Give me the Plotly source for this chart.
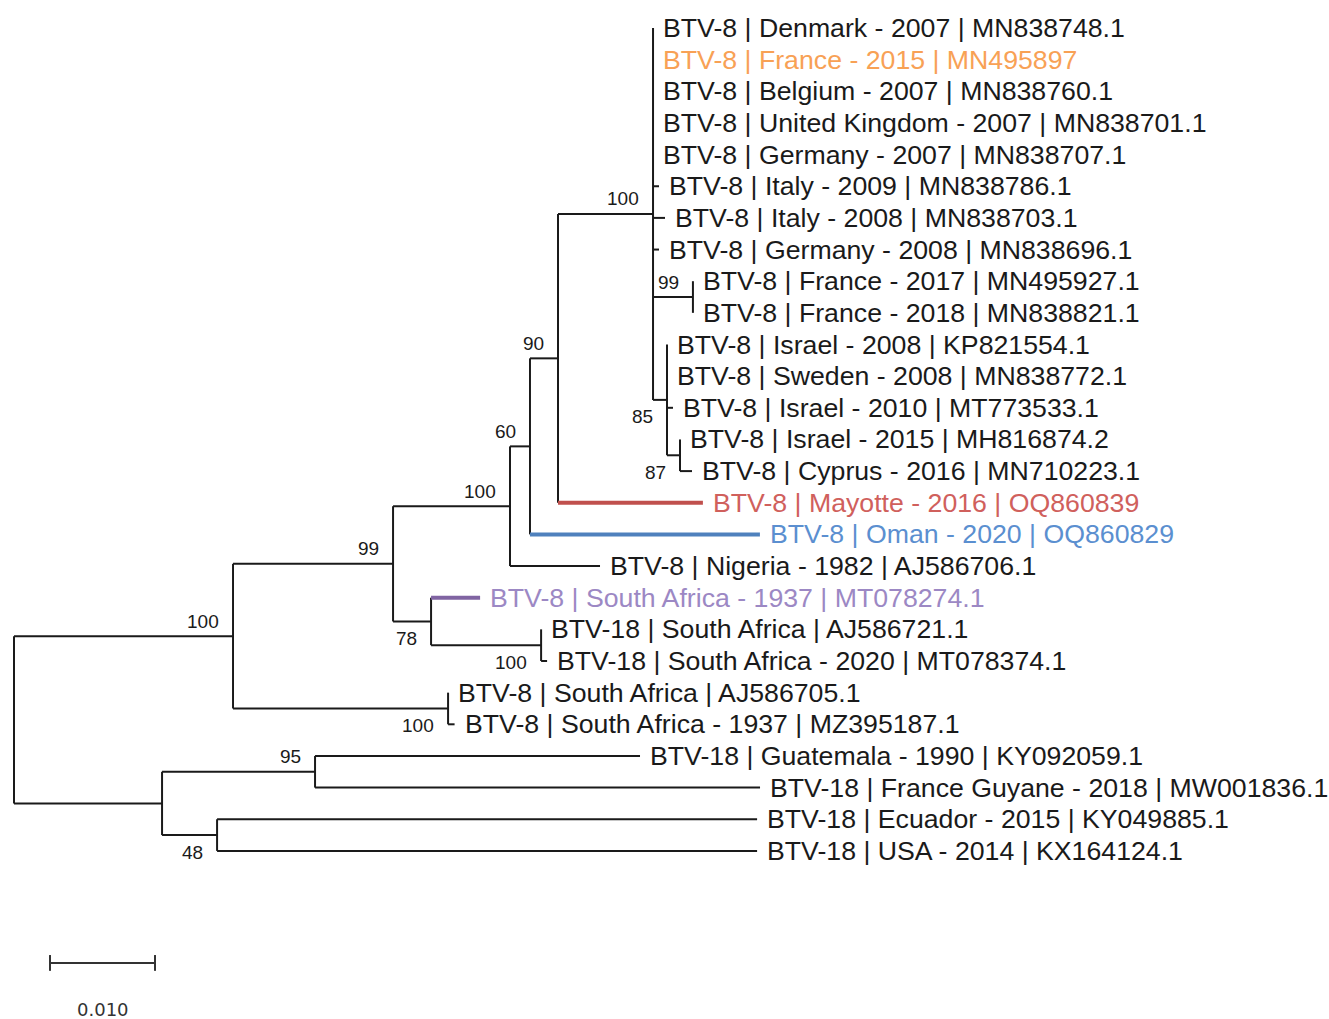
import plotly.graph_objects as go

# ---------------- data ----------------
tip_labels = [
    "BTV-8 | Denmark - 2007 | MN838748.1",
    "BTV-8 | France - 2015 | MN495897",
    "BTV-8 | Belgium - 2007 | MN838760.1",
    "BTV-8 | United Kingdom - 2007 | MN838701.1",
    "BTV-8 | Germany - 2007 | MN838707.1",
    "BTV-8 | Italy - 2009 | MN838786.1",
    "BTV-8 | Italy - 2008 | MN838703.1",
    "BTV-8 | Germany - 2008 | MN838696.1",
    "BTV-8 | France - 2017 | MN495927.1",
    "BTV-8 | France - 2018 | MN838821.1",
    "BTV-8 | Israel - 2008 | KP821554.1",
    "BTV-8 | Sweden - 2008 | MN838772.1",
    "BTV-8 | Israel - 2010 | MT773533.1",
    "BTV-8 | Israel - 2015 | MH816874.2",
    "BTV-8 | Cyprus - 2016 | MN710223.1",
    "BTV-8 | Mayotte - 2016 | OQ860839",
    "BTV-8 | Oman - 2020 | OQ860829",
    "BTV-8 | Nigeria - 1982 | AJ586706.1",
    "BTV-8 | South Africa - 1937 | MT078274.1",
    "BTV-18 | South Africa | AJ586721.1",
    "BTV-18 | South Africa - 2020 | MT078374.1",
    "BTV-8 | South Africa | AJ586705.1",
    "BTV-8 | South Africa - 1937 | MZ395187.1",
    "BTV-18 | Guatemala - 1990 | KY092059.1",
    "BTV-18 | France Guyane - 2018 | MW001836.1",
    "BTV-18 | Ecuador - 2015 | KY049885.1",
    "BTV-18 | USA - 2014 | KX164124.1",
]
tip_parent = ["F", "F", "F", "F", "F", "F", "F", "F", "G", "G", "H", "H", "H", "I", "I",
              "E", "D", "C", "J", "K", "K", "L", "L", "N", "N", "O", "O"]
tip_branch = [0, 0, 0, 0, 0, 0.00057, 0.00114, 0.00057, 0, 0, 0, 0, 0.00057, 0, 0.00114,
              0.0138, 0.0219, 0.00857, 0.00467, 0, 0.00057, 0, 0.00062,
              0.03095, 0.04238, 0.05143, 0.05143]

node_names = ["root", "A", "B", "C", "D", "E", "F", "G", "H", "I", "J", "K", "L", "M", "N", "O"]
node_parent = [None, "root", "A", "B", "C", "D", "E", "F", "F", "H", "B", "J", "A", "root", "M", "M"]
node_branch = [0, 0.02086, 0.01524, 0.01114, 0.0019, 0.00267, 0.00905, 0.0038, 0.00133,
               0.00124, 0.00362, 0.01048, 0.02048, 0.0141, 0.01457, 0.00524]
node_bootstrap = [None, 100, 99, 100, 60, 90, 100, 99, 85, 87, 78, 100, 100, None, 95, 48]

scale_length = 0.010
scale_label = "0.010"

# ---------------- styles ----------------
tip_line_color = {
    "BTV-8 | Mayotte - 2016 | OQ860839": "#c0504d",
    "BTV-8 | Oman - 2020 | OQ860829": "#4f81bd",
    "BTV-8 | South Africa - 1937 | MT078274.1": "#8064a2",
}
tip_text_color = {
    "BTV-8 | France - 2015 | MN495897": "#f8a155",
    "BTV-8 | Mayotte - 2016 | OQ860839": "#d0605c",
    "BTV-8 | Oman - 2020 | OQ860829": "#5b8fd0",
    "BTV-8 | South Africa - 1937 | MT078274.1": "#9c88c4",
}
INK = "#1a1a1a"
FONT = "Liberation Sans, Arial, sans-serif"

# ---------------- layout computation ----------------
nidx = {n: i for i, n in enumerate(node_names)}
node_x = [None] * len(node_names)


def nx(n):
    i = nidx[n]
    if node_x[i] is None:
        p = node_parent[i]
        node_x[i] = 0.0 if p is None else nx(p) + node_branch[i]
    return node_x[i]


for n in node_names:
    nx(n)

tip_x = [nx(p) + b for p, b in zip(tip_parent, tip_branch)]
tip_y = list(range(len(tip_labels)))

children = {n: [] for n in node_names}
for i, p in enumerate(tip_parent):
    children[p].append(("tip", i))
for i, p in enumerate(node_parent):
    if p is not None:
        children[p].append(("node", i))

node_y = [None] * len(node_names)


def ny(i):
    if node_y[i] is None:
        ys = []
        for kind, j in children[node_names[i]]:
            ys.append(tip_y[j] if kind == "tip" else ny(j))
        node_y[i] = (min(ys) + max(ys)) / 2
    return node_y[i]


for i in range(len(node_names)):
    ny(i)


def child_y(kind, j):
    return tip_y[j] if kind == "tip" else node_y[j]


# ---------------- build line segments ----------------
bx, by = [], []
colored = {}
for i, n in enumerate(node_names):
    ch = children[n]
    ys = [child_y(k, j) for k, j in ch]
    bx += [node_x[i], node_x[i], None]
    by += [min(ys), max(ys), None]
    for k, j in ch:
        x1 = tip_x[j] if k == "tip" else node_x[j]
        yy = child_y(k, j)
        if x1 - node_x[i] <= 0:
            continue
        if k == "tip" and tip_labels[j] in tip_line_color:
            colored[tip_labels[j]] = ([node_x[i], x1], [yy, yy])
        else:
            bx += [node_x[i], x1, None]
            by += [yy, yy, None]

fig = go.Figure()
fig.add_trace(go.Scatter(x=bx, y=by, mode="lines", line=dict(color=INK, width=2),
                         hoverinfo="skip", showlegend=False))
for lab, (xs, ys) in colored.items():
    fig.add_trace(go.Scatter(x=xs, y=ys, mode="lines",
                             line=dict(color=tip_line_color[lab], width=4),
                             hoverinfo="skip", showlegend=False))

annotations = []
for lab, x, y in zip(tip_labels, tip_x, tip_y):
    annotations.append(dict(x=x, y=y, text=lab, showarrow=False, xanchor="left",
                            yanchor="middle", xshift=8, yshift=0,
                            font=dict(family=FONT, size=26.7,
                                      color=tip_text_color.get(lab, INK))))

for i, n in enumerate(node_names):
    b = node_bootstrap[i]
    if b is None:
        continue
    p = node_parent[i]
    sib_ys = [child_y(k, j) for k, j in children[p]]
    last = node_y[i] >= max(sib_ys)
    annotations.append(dict(x=node_x[i], y=node_y[i], text=str(b), showarrow=False,
                            xanchor="right", yanchor="middle", xshift=-12,
                            yshift=-17 if last else 15,
                            font=dict(family=FONT, size=19, color=INK)))

# scale bar
sx0 = 0.00343
sy = 29.54
fig.add_trace(go.Scatter(x=[sx0, sx0 + scale_length, None, sx0, sx0, None,
                            sx0 + scale_length, sx0 + scale_length],
                         y=[sy, sy, None, sy - 0.25, sy + 0.25, None, sy - 0.25, sy + 0.25],
                         mode="lines", line=dict(color="#333333", width=2),
                         hoverinfo="skip", showlegend=False))
annotations.append(dict(x=sx0 + scale_length / 2, y=sy, text=scale_label, showarrow=False,
                        xanchor="center", yanchor="middle", yshift=-47,
                        font=dict(family="DejaVu Sans, sans-serif", size=18, color="#333333")))

W, H = 1329, 1019
PX_PER_UNIT = 10500.0
ROOT_PX = 14.0
ROW0, ROWSTEP = 28.0, 31.65

fig.update_layout(
    width=W, height=H,
    margin=dict(l=0, r=0, t=0, b=0),
    paper_bgcolor="white", plot_bgcolor="white",
    annotations=annotations,
    xaxis=dict(range=[-ROOT_PX / PX_PER_UNIT, (W - ROOT_PX) / PX_PER_UNIT],
               visible=False, fixedrange=True),
    yaxis=dict(range=[(H - ROW0) / ROWSTEP, -ROW0 / ROWSTEP],
               visible=False, fixedrange=True),
)

fig.write_html("out.html", include_plotlyjs=True, config={"displayModeBar": False},
               post_script="document.body.style.margin='0';document.body.style.overflow='hidden';")
